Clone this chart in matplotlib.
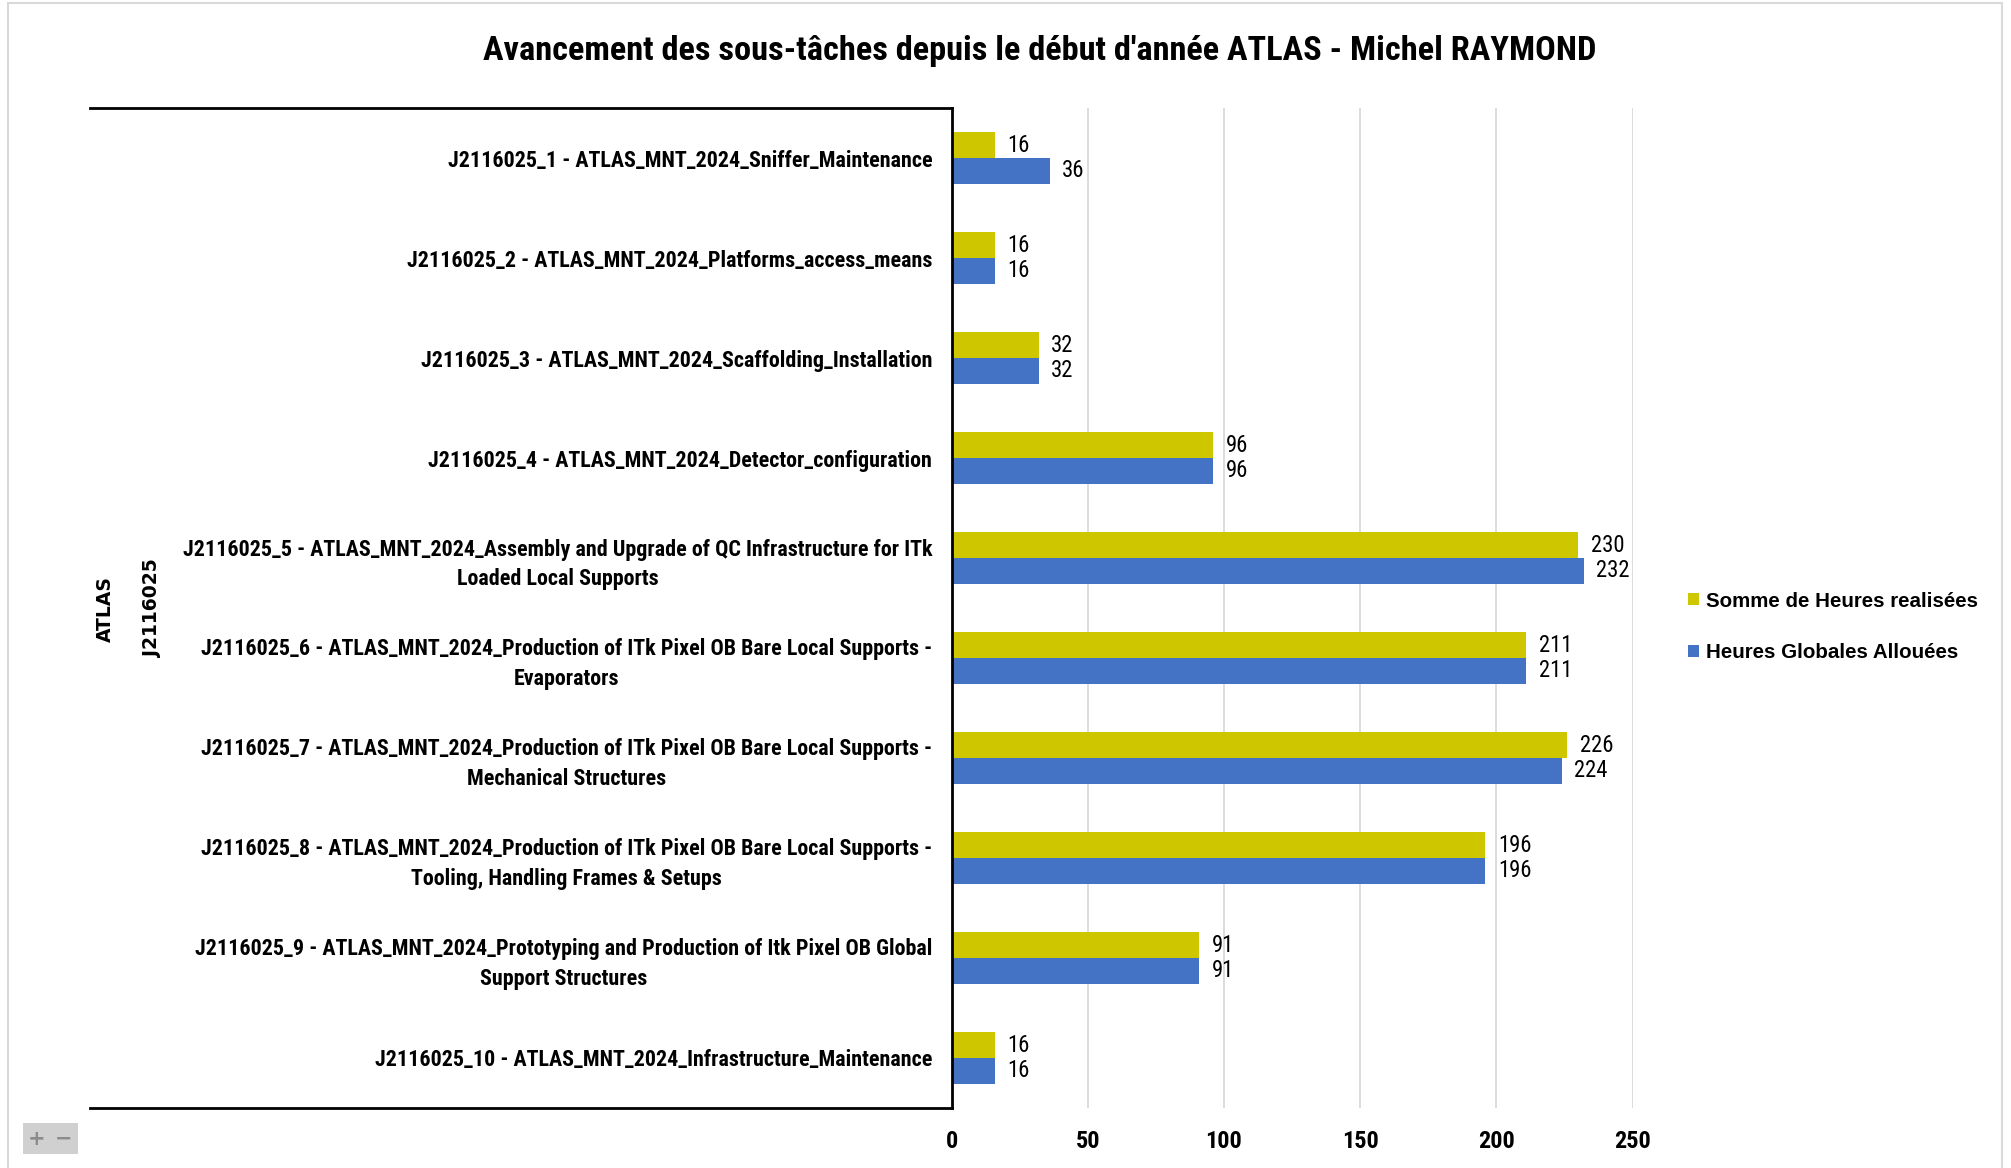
import matplotlib
matplotlib.use('Agg')
import matplotlib.pyplot as plt
from matplotlib import font_manager
from matplotlib.font_manager import FontProperties
from matplotlib.patches import Patch, Rectangle
from matplotlib.lines import Line2D
import numpy as np

# données
categories = [
    "J2116025_1 - ATLAS_MNT_2024_Sniffer_Maintenance",
    "J2116025_2 - ATLAS_MNT_2024_Platforms_access_means",
    "J2116025_3 - ATLAS_MNT_2024_Scaffolding_Installation",
    "J2116025_4 - ATLAS_MNT_2024_Detector_configuration",
    "J2116025_5 - ATLAS_MNT_2024_Assembly and Upgrade of QC Infrastructure for ITk\nLoaded Local Supports",
    "J2116025_6 - ATLAS_MNT_2024_Production of ITk Pixel OB Bare Local Supports -\nEvaporators",
    "J2116025_7 - ATLAS_MNT_2024_Production of ITk Pixel OB Bare Local Supports -\nMechanical Structures",
    "J2116025_8 - ATLAS_MNT_2024_Production of ITk Pixel OB Bare Local Supports -\nTooling, Handling Frames & Setups",
    "J2116025_9 - ATLAS_MNT_2024_Prototyping and Production of Itk Pixel OB Global\nSupport Structures",
    "J2116025_10 - ATLAS_MNT_2024_Infrastructure_Maintenance",
]
heures_realisees = [16, 16, 32, 96, 230, 211, 226, 196, 91, 16]
heures_allouees = [36, 16, 32, 96, 232, 211, 224, 196, 91, 16]
x_ticks = [0, 50, 100, 150, 200, 250]
series_names = ["Somme de Heures realisées", "Heures Globales Allouées"]
title = "Avancement des sous-tâches depuis le début d'année ATLAS - Michel RAYMOND"

YELLOW = '#CEC700'
BLUE = '#4472C4'


def is_bold(f):
    w = f.weight
    if isinstance(w, str):
        return 'bold' in w.lower() or w.lower() in ('heavy', 'black')
    return w >= 600


def condensed_font(bold):
    """cherche une police étroite (Narrow / Condensed) installée"""
    prefs = ['Liberation Sans Narrow', 'Roboto Condensed', 'Open Sans Condensed',
             'Noto Sans Condensed', 'DejaVu Sans Condensed', 'Noto Sans', 'DejaVu Sans',
             'Open Sans', 'Roboto', 'Inter', 'Lato']
    found = {}
    for f in font_manager.fontManager.ttflist:
        if f.style != 'normal' or is_bold(f) != bold:
            continue
        narrow = (f.stretch in ('condensed', 'semi-condensed', 'extra-condensed')
                  or 'Condensed' in f.name or 'Narrow' in f.name
                  or 'Condensed' in f.fname or 'Narrow' in f.fname)
        if not narrow:
            continue
        if isinstance(f.weight, int) and bold and f.weight > 800:
            continue
        if isinstance(f.weight, int) and not bold and f.weight < 350:
            continue
        found.setdefault(f.name, f.fname)
    for p in prefs:
        if p in found:
            return FontProperties(fname=found[p])
    if found:
        return FontProperties(fname=sorted(found.values())[0])
    return FontProperties(family='Liberation Sans', weight='bold' if bold else 'normal')


fig = plt.figure(figsize=(20.11, 11.68), dpi=100)
renderer = fig.canvas.get_renderer()

FP_B = condensed_font(True)
FP_R = condensed_font(False)


def fit(fp, text, target_px, base=20.0):
    p = fp.copy()
    p.set_size(base)
    t = fig.text(0, 0, text, fontproperties=p)
    w = t.get_window_extent(renderer=renderer).width
    t.remove()
    p = fp.copy()
    p.set_size(base * target_px / w)
    return p


fp_title = fit(FP_B, title, 1112)
fp_cat = fit(FP_B, categories[0], 483)
fp_tick = fit(FP_B, "100 150 200 250", 164)
fp_val = fit(FP_R, "230 232 211 226", 150)

ax = fig.add_axes([0.4732, 0.0514, 0.3386, 0.8561])

y = np.arange(len(categories))
h = 0.256
ax.barh(y - h / 2, heures_realisees, height=h, color=YELLOW, linewidth=0)
ax.barh(y + h / 2, heures_allouees, height=h, color=BLUE, linewidth=0)

for yi, v in zip(y, heures_realisees):
    ax.annotate(str(v), (v, yi - h / 2), xytext=(9, 0), textcoords='offset points',
                ha='left', va='center', fontproperties=fp_val)
for yi, v in zip(y, heures_allouees):
    ax.annotate(str(v), (v, yi + h / 2), xytext=(9, 0), textcoords='offset points',
                ha='left', va='center', fontproperties=fp_val)

ax.set_xlim(0, 250)
ax.set_ylim(len(categories) - 0.5, -0.5)
ax.set_xticks(x_ticks)
ax.set_xticklabels([str(t) for t in x_ticks], fontproperties=fp_tick)
ax.set_yticks(y)
ax.set_yticklabels(categories, fontproperties=fp_cat, multialignment='center', linespacing=1.45)
ax.tick_params(axis='x', length=0, pad=16)
ax.tick_params(axis='y', length=0, pad=14)

ax.xaxis.grid(True, color='#D9D9D9', linewidth=1.3)
ax.set_axisbelow(True)
for s in ['top', 'right', 'bottom']:
    ax.spines[s].set_visible(False)
ax.spines['left'].set_color('black')
ax.spines['left'].set_linewidth(2)

# lignes du groupe de catégories
for yy in [0.0514, 0.9075]:
    fig.add_artist(Line2D([0.0446, 0.4732], [yy, yy], transform=fig.transFigure,
                          color='black', linewidth=2))

fig.text(0.0523, 0.4786, 'ATLAS', rotation=90, ha='center', va='center',
         fontsize=13.5, fontweight='bold', family='DejaVu Sans')
fig.text(0.0759, 0.4797, 'J2116025', rotation=90, ha='center', va='center',
         fontsize=13.5, fontweight='bold', family='DejaVu Sans')

fig.text(0.517, 0.956, title, ha='center', va='center', fontproperties=fp_title)

handles = [Patch(facecolor=YELLOW, label=series_names[0]),
           Patch(facecolor=BLUE, label=series_names[1])]
fig.legend(handles=handles, loc='center left', bbox_to_anchor=(0.8393, 0.4632),
           frameon=False, borderpad=0, borderaxespad=0, handlelength=0.55, handleheight=0.55,
           handletextpad=0.35, labelspacing=1.6,
           prop={'family': 'Liberation Sans', 'weight': 'bold', 'size': 14.8})

# cadre extérieur
fig.add_artist(Rectangle((0.0038, -0.01), 0.9917, 1.0078, transform=fig.transFigure,
                         fill=False, edgecolor='#D9D9D9', linewidth=1.5))

# boutons zoom
fig.add_artist(Rectangle((0.0115, 0.0121), 0.0274, 0.0263, transform=fig.transFigure,
                         facecolor='#D0D0D0', edgecolor='none'))
fig.text(0.0180, 0.0252, '+', ha='center', va='center', fontsize=15, fontweight='bold', color='#8C8C8C')
fig.text(0.0315, 0.0252, '−', ha='center', va='center', fontsize=15, fontweight='bold', color='#8C8C8C')

fig.savefig('out.png', dpi=100, facecolor='white')
